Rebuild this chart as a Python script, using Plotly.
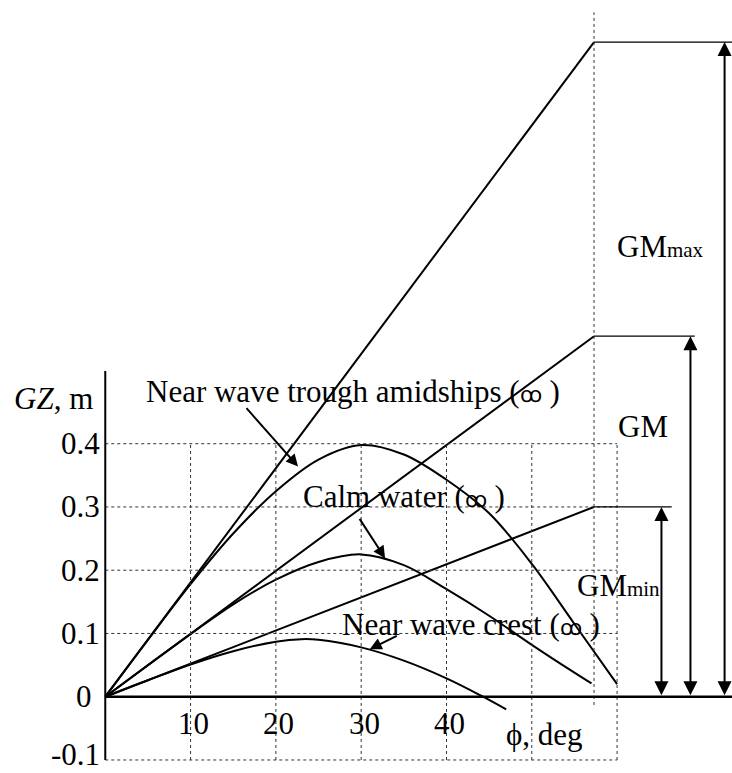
import numpy as np
import plotly.graph_objects as go

# Righting-arm (GZ) curves, heel angle in degrees vs GZ in metres
phi_trough = [0, 5, 10, 15, 20, 25, 30, 35, 40, 45, 50, 55, 60]
gz_trough = [0, 0.09, 0.178, 0.258, 0.325, 0.375, 0.398, 0.383, 0.343, 0.29, 0.21, 0.115, 0.02]

phi_calm = [0, 5, 10, 15, 20, 25, 30, 35, 40, 45, 50, 55, 57]
gz_calm = [0, 0.05, 0.099, 0.146, 0.185, 0.213, 0.225, 0.208, 0.17, 0.128, 0.082, 0.038, 0.021]

phi_crest = [0, 5, 10, 15, 20, 23, 25, 30, 35, 40, 44, 47]
gz_crest = [0, 0.026, 0.051, 0.072, 0.087, 0.091, 0.09, 0.078, 0.057, 0.029, 0.002, -0.02]

# Metacentric heights (tangent at origin reaches GM at 1 rad)
gm_values = [1.035, 0.57, 0.30]
gm_labels = ["GM<span style='font-size:21px'>max</span>", "GM",
             "GM<span style='font-size:21px'>min</span>"]
one_rad = float(np.degrees(1.0))

# Axis ticks
x_ticks = [10, 20, 30, 40]
y_ticks = [0.4, 0.3, 0.2, 0.1, 0, -0.1]
y_tick_text = ["0.4", "0.3", "0.2", "0.1", "0", "-0.1"]
grid_x = [10, 20, 30, 40, 50, 60]
grid_y = [0.1, 0.2, 0.3, 0.4, -0.1]

FONT = dict(family="Liberation Serif, Times New Roman, serif", size=31, color="black")
X_RANGE = [-12.34, 73.47]
Y_RANGE = [-0.1206, 1.1015]
SYM = "<span style='font-size:22px'>ꝏ</span>"

fig = go.Figure()

# GZ curves
for xs, ys in [(phi_trough, gz_trough), (phi_calm, gz_calm), (phi_crest, gz_crest)]:
    fig.add_trace(go.Scatter(x=xs, y=ys, mode="lines",
                             line=dict(color="black", width=2, shape="spline", smoothing=1.0),
                             hoverinfo="skip", showlegend=False))

# Tangent lines from the origin to GM at 1 radian
for gm in gm_values:
    fig.add_trace(go.Scatter(x=[0, one_rad], y=[0, gm], mode="lines",
                             line=dict(color="black", width=2),
                             hoverinfo="skip", showlegend=False))

shapes = []
dot = dict(color="#333", width=1, dash="dot")
for gx in grid_x:
    shapes.append(dict(type="line", xref="x", yref="y", x0=gx, x1=gx, y0=-0.1, y1=0.4, line=dot))
for gy in grid_y:
    shapes.append(dict(type="line", xref="x", yref="y", x0=0, x1=60, y0=gy, y1=gy, line=dot))
# 1 rad marker
shapes.append(dict(type="line", xref="x", yref="y", x0=one_rad, x1=one_rad,
                   y0=-0.013, y1=1.082, line=dot))

# axes
shapes.append(dict(type="line", xref="x", yref="y", x0=0, x1=0, y0=-0.1, y1=0.515,
                   line=dict(color="black", width=2)))
shapes.append(dict(type="line", xref="x", yref="y", x0=0, x1=73.5, y0=0, y1=0,
                   line=dict(color="black", width=2.6)))

# horizontal GM reference lines and dimension arrows
gm_line_ends = [73.5, 69.1, 66.4]
gm_arrow_x = [72.6, 68.6, 65.2]
for gm, xe in zip(gm_values, gm_line_ends):
    shapes.append(dict(type="line", xref="x", yref="y", x0=one_rad, x1=xe, y0=gm, y1=gm,
                       line=dict(color="black", width=1.3)))

annotations = []
for gm, xa in zip(gm_values, gm_arrow_x):
    annotations.append(dict(x=xa, y=gm, ax=xa, ay=0, xref="x", yref="y", axref="x", ayref="y",
                            text="", showarrow=True, arrowhead=2, startarrowhead=2,
                            arrowside="end+start", arrowsize=1.4, startarrowsize=1.4,
                            arrowwidth=2, arrowcolor="black", standoff=0, startstandoff=0))

# tick labels
for v, t in zip(y_ticks, y_tick_text):
    shift_x = -8 if t == "0" else 0
    shift_y = 5 if t == "-0.1" else 0
    annotations.append(dict(x=-0.4, y=v, xref="x", yref="y", text=t, showarrow=False,
                            xanchor="right", yanchor="middle", font=FONT,
                            xshift=shift_x, yshift=shift_y))
for v in x_ticks:
    annotations.append(dict(x=v, y=-0.043, xref="x", yref="y", text=str(v), showarrow=False,
                            xanchor="center", yanchor="middle", font=FONT, xshift=3))

# axis titles
annotations.append(dict(x=-10.97, y=0.471, xref="x", yref="y", text="<i>GZ</i>, m",
                        showarrow=False, xanchor="left", yanchor="middle", font=FONT))
annotations.append(dict(x=46.7, y=-0.059, xref="x", yref="y", text="ϕ, deg",
                        showarrow=False, xanchor="left", yanchor="middle", font=FONT))

# curve labels
curve_labels = [
    ("Near wave trough amidships (" + SYM + " )", 4.54, 0.482),
    ("Calm water (" + SYM + " )", 23.0, 0.316),
    ("Near wave crest (" + SYM + " )", 27.5, 0.114),
]
for t, x, y in curve_labels:
    annotations.append(dict(x=x, y=y, xref="x", yref="y", text=t, showarrow=False,
                            xanchor="left", yanchor="middle", font=FONT))

# pointer arrows from labels to curves (tip, tail)
pointers = [((22.6, 0.364), (16.4, 0.4585)),
            ((32.8, 0.219), (29.7, 0.2836)),
            ((31.0, 0.075), (34.35, 0.0975))]
for (tx, ty), (sx, sy) in pointers:
    annotations.append(dict(x=tx, y=ty, ax=sx, ay=sy, xref="x", yref="y", axref="x", ayref="y",
                            text="", showarrow=True, arrowhead=2, arrowsize=1.2,
                            arrowwidth=2, arrowcolor="black", standoff=0))

# GM labels
gm_label_pos = [(59.75, 0.7125), (59.87, 0.428), (55.07, 0.1758)]
for t, (x, y) in zip(gm_labels, gm_label_pos):
    annotations.append(dict(x=x, y=y, xref="x", yref="y", text=t, showarrow=False,
                            xanchor="left", yanchor="middle", font=FONT))

fig.update_layout(
    width=732, height=773,
    margin=dict(l=0, r=0, t=0, b=0),
    paper_bgcolor="white", plot_bgcolor="white",
    xaxis=dict(range=X_RANGE, visible=False, fixedrange=True),
    yaxis=dict(range=Y_RANGE, visible=False, fixedrange=True),
    shapes=shapes, annotations=annotations,
    showlegend=False,
)

fig.write_html("out.html")
